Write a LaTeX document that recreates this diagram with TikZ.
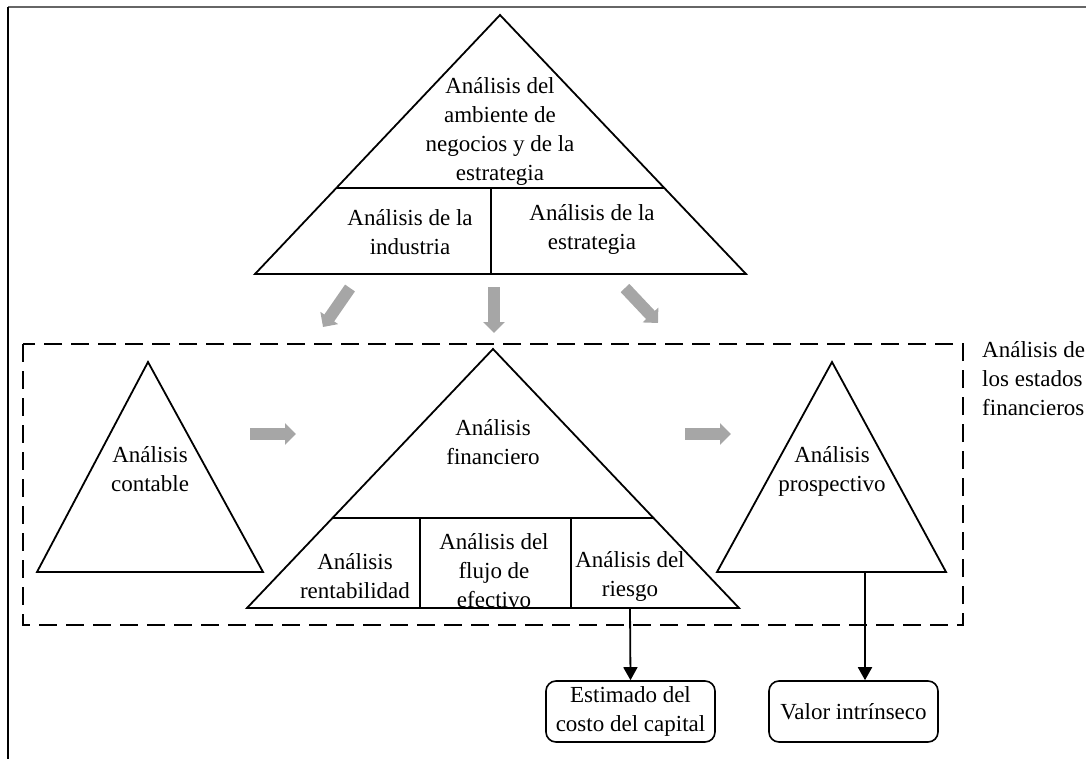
\documentclass[tikz,border=0pt]{standalone}
\usepackage{fontspec}
\setmainfont{Liberation Serif}
\usetikzlibrary{arrows.meta,positioning,calc}
\definecolor{arrowgray}{RGB}{166,166,166}
\definecolor{framegray}{RGB}{102,102,102}

\begin{document}
\begin{tikzpicture}[x=1pt,y=-1pt,
	tri/.style={line width=1.8pt,line join=miter},
	cell/.style={line width=1.2pt},
	lbl/.style={align=center,font=\fontsize{23}{29}\selectfont,inner sep=0pt},
	flow/.style={draw=arrowgray,line width=12pt,-{Triangle[length=11pt,width=21pt]}},
	result/.style={draw,rounded corners=10pt,line width=1.6pt,align=center,
		font=\fontsize{23}{29}\selectfont,minimum width=169pt,minimum height=61pt,inner sep=2pt},
	salida/.style={line width=1.8pt,-{Triangle[length=13pt,width=14pt]}}]
	
	\useasboundingbox (0,0) rectangle (1086,759);
	
	% marco
	\draw[framegray,line width=2pt] (8,7) -- (1086,7);
	\draw[line width=2pt] (8,7) -- (8,759);
	
	% triangulo superior
	\coordinate (t1) at (500,15);
	\coordinate (t2) at (255,274);
	\coordinate (t3) at (746,274);
	\draw[tri] (t1) -- (t2) -- (t3) -- cycle;
	\draw[cell] ($(t1)!0.668!(t2)$) -- ($(t1)!0.668!(t3)$);
	\draw[cell] (491,188) -- (491,274);
	
	\node[lbl] (amb) at (500,131) {Análisis del\\ambiente de\\negocios y de la\\estrategia};
	\node[lbl] (ind) at (410,232) {Análisis de la\\industria};
	\node[lbl] (est) at (592,229) {Análisis de la\\estrategia};
	
	% flechas grises hacia abajo
	\foreach \i/\xa/\ya/\xb/\yb in {1/350/288/323/327,2/494/287/494/333,3/625/288/658/323}{
		\coordinate (fa\i) at (\xa,\ya);
		\coordinate (fb\i) at (\xb,\yb);
		\draw[flow] (fa\i) -- (fb\i);
	}
	
	% analisis de los estados financieros
	\draw[line width=1.8pt,dash pattern=on 18pt off 9pt] (23,344) rectangle (963,625);
	\node[lbl,align=left,anchor=west] (aef) at (982,379) {Análisis de\\los estados\\financieros};
	
	% triangulo contable
	\coordinate (c1) at (148,362);
	\coordinate (c2) at (37,572);
	\coordinate (c3) at (263,572);
	\draw[tri] (c1) -- (c2) -- (c3) -- cycle;
	\node[lbl] (cont) at (150,469) {Análisis\\contable};
	
	% triangulo financiero
	\coordinate (m1) at (493,349);
	\coordinate (m2) at (247,608);
	\coordinate (m3) at (739,608);
	\draw[tri] (m1) -- (m2) -- (m3) -- cycle;
	\draw[cell] ($(m1)!0.6525!(m2)$) -- ($(m1)!0.6525!(m3)$);
	\draw[cell] (420,518) -- (420,608);
	\draw[cell] (571,518) -- (571,608);
	\node[lbl] (fin) at (493,442) {Análisis\\financiero};
	\node[lbl] (rent) at (355,576) {Análisis\\rentabilidad};
	\node[lbl] (flujo) at (494,571) {Análisis del\\flujo de\\efectivo};
	\node[lbl] (riesgo) at (630,576) {Análisis del\\riesgo};
	
	% triangulo prospectivo
	\coordinate (p1) at (832,362);
	\coordinate (p2) at (717,572);
	\coordinate (p3) at (946,572);
	\draw[tri] (p1) -- (p2) -- (p3) -- cycle;
	\node[lbl] (prosp) at (832,471) {Análisis\\prospectivo};
	
	% flechas grises horizontales
	\coordinate (ha1) at (250,434);
	\coordinate (hb1) at (296,434);
	\coordinate (ha2) at (685,434);
	\coordinate (hb2) at (731,434);
	\draw[flow] (ha1) -- (hb1);
	\draw[flow] (ha2) -- (hb2);
	
	% resultados
	\node[result] (costo) at (630.5,711.5) {Estimado del\\costo del capital};
	\node[result] (valor) at (853.5,711.5) {Valor intrínseco};
	
	\coordinate (rb) at (630,608);
	\coordinate (pb) at (865,572);
	\draw[salida] (rb) -- (costo.north);
	\draw[salida] (pb) -- (pb |- valor.north);
	
\end{tikzpicture}
\end{document}
